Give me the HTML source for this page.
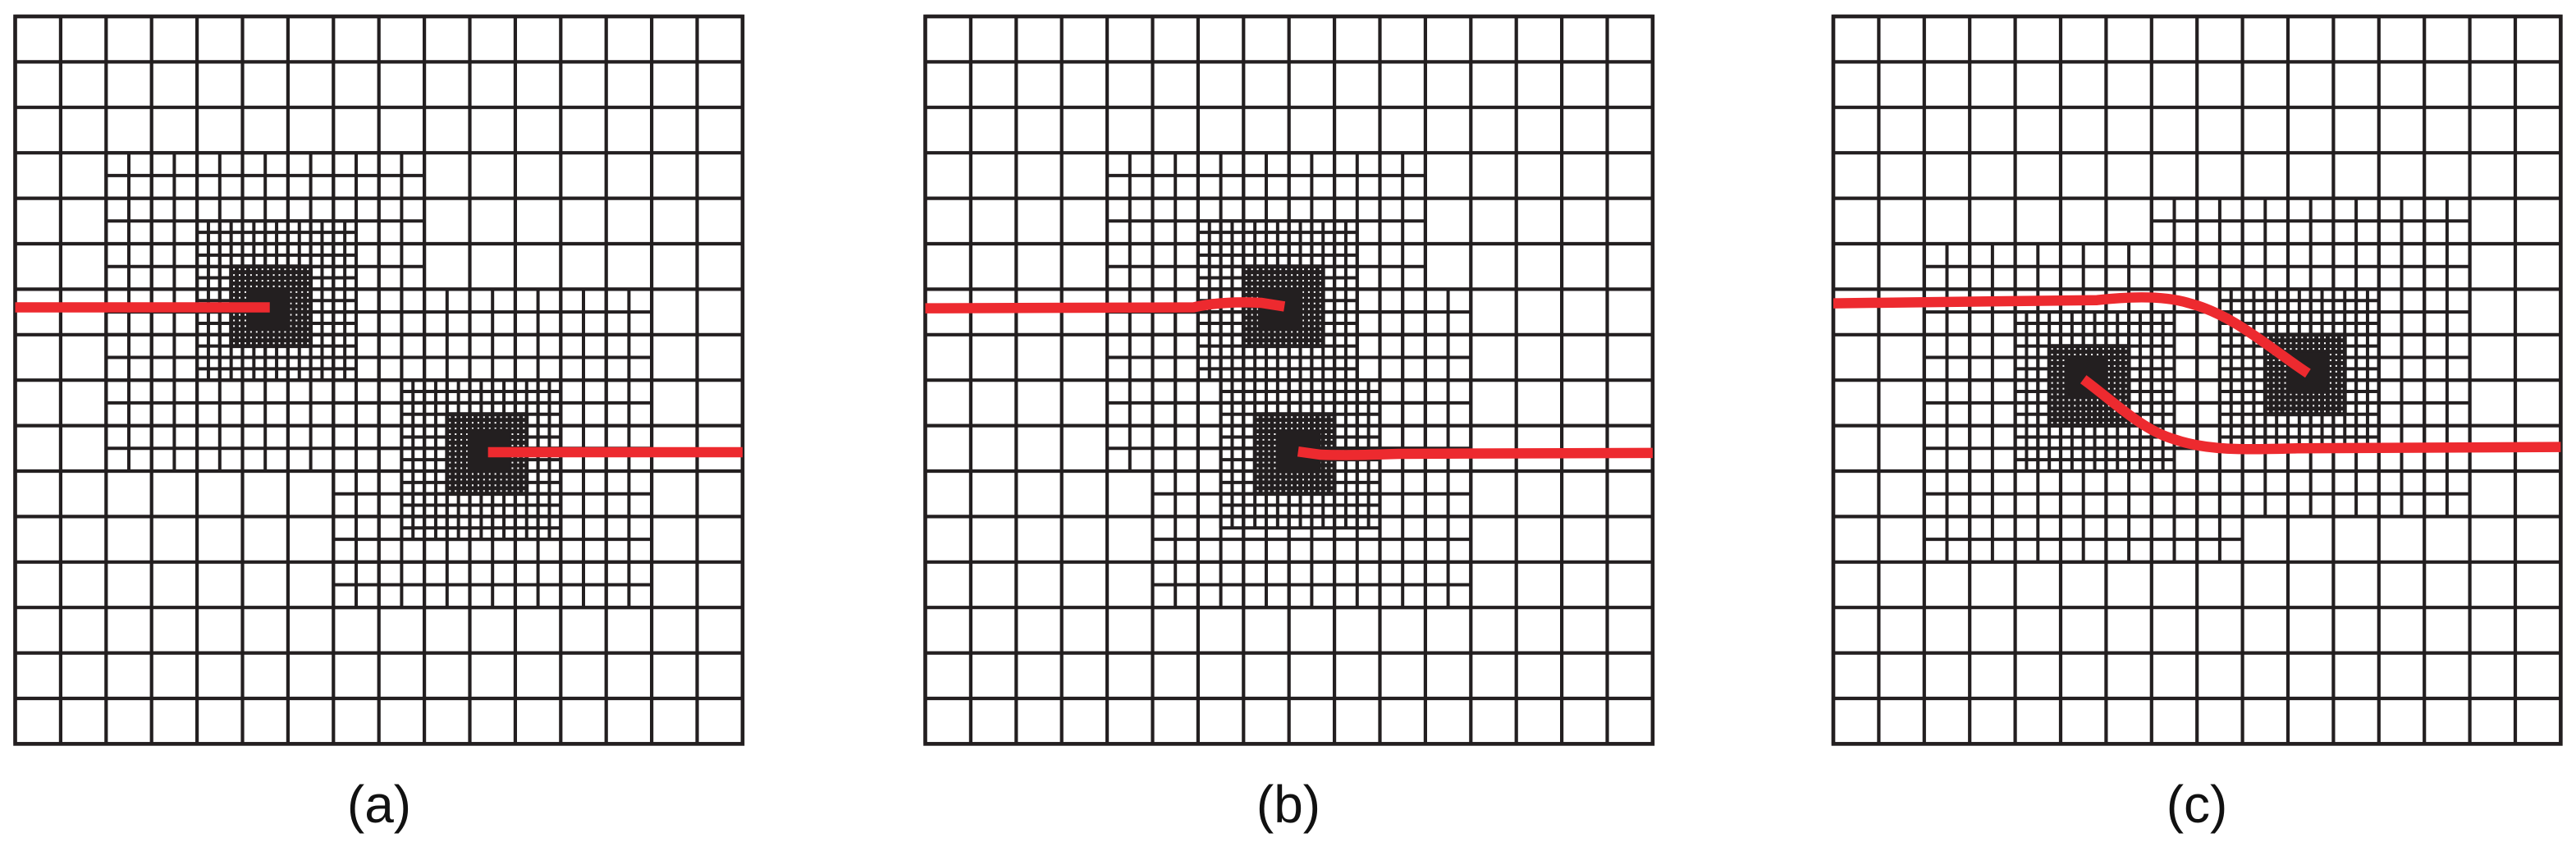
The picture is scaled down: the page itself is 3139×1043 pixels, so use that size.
<!DOCTYPE html>
<html><head><meta charset="utf-8">
<style>
html,body{margin:0;padding:0;background:#fff;}
body{width:3139px;height:1043px;position:relative;overflow:hidden;}
svg{position:absolute;left:0;top:0;}
.lbl{position:absolute;top:940px;width:300px;text-align:center;font-family:"Liberation Sans",Arial,sans-serif;font-size:64px;color:#111;line-height:80px;}
</style></head>
<body>
<svg id="s" width="3139" height="1043" viewBox="0 0 3139 1043" xmlns="http://www.w3.org/2000/svg"></svg>
<div class="lbl" style="left:312px">(a)</div>
<div class="lbl" style="left:1420px">(b)</div>
<div class="lbl" style="left:2527px">(c)</div>
<script>
var C=55.4, TOP=20, INK="#231f20", RED="#ed2a2f";
var panels=[
 {ox:18.5,
  H:[[2,3,9,10],[7,6,14,13]],
  Q:[[4,4.5,7.5,8],[8.5,8,12,11.5]],
  E:[[4.75,5.5,6.5,7.25],[9.5,8.75,11.25,10.5]],
  K:[[5.1,6,6.05,6.92],[9.95,9.07,10.87,10.03]],
  R:["M0,6.4 L5.6,6.4","M10.4,9.585 L16,9.585"]},
 {ox:1127.5,
  H:[[4,3,11,10],[5,6,12,13]],
  Q:[[6,4.5,9.5,8],[6.5,8,10,11.25]],
  E:[[7,5.5,8.75,7.25],[7.25,8.75,9,10.5]],
  K:[[7.32,6,8.3,6.92],[7.75,9.1,8.7,10.05]],
  R:["M0,6.42 L5.9,6.4 C6.3,6.3 6.9,6.27 7.4,6.3 L7.9,6.38","M8.2,9.57 L8.7,9.64 C9.2,9.66 9.8,9.64 10.4,9.62 L16,9.6"]},
 {ox:2234,
  H:[[2,5,9,12],[7,4,14,11]],
  Q:[[4,6.5,7.5,10],[8.5,6,12,9.5]],
  E:[[4.75,7.25,6.5,9],[9.5,7,11.25,8.75]],
  K:[[5.08,7.5,6,8.4],[10,7.4,10.87,8.3]],
  R:["M0,6.31 L5.8,6.24 C6.6,6.15 7.3,6.15 7.8,6.3 C8.8,6.55 9.6,7.3 10.44,7.85",
     "M5.5,7.98 C6.2,8.5 6.8,9.1 7.5,9.3 C8.2,9.55 9,9.53 10.2,9.5 L16,9.47"]}
];
var out=[];
function line(x1,y1,x2,y2,w){out.push('<line x1="'+x1.toFixed(2)+'" y1="'+y1.toFixed(2)+'" x2="'+x2.toFixed(2)+'" y2="'+y2.toFixed(2)+'" stroke="'+INK+'" stroke-width="'+w+'"/>');}
function grid(p,r,s,w){
 var X=function(c){return p.ox+c*C;}, Y=function(c){return TOP+c*C;};
 var n=Math.round((r[2]-r[0])/s), m=Math.round((r[3]-r[1])/s);
 for(var i=0;i<=n;i++){var x=X(r[0]+i*s);line(x,Y(r[1]),x,Y(r[3]),w);}
 for(var j=0;j<=m;j++){var y=Y(r[1]+j*s);line(X(r[0]),y,X(r[2]),y,w);}
}
panels.forEach(function(p){
 grid(p,[0,0,16,16],1,4.2);
 p.H.forEach(function(r){grid(p,r,0.5,4.0);});
 p.Q.forEach(function(r){grid(p,r,0.25,4.0);});
 p.E.forEach(function(r){grid(p,r,0.125,4.9);});
 p.K.forEach(function(r){out.push('<rect x="'+(p.ox+r[0]*C)+'" y="'+(TOP+r[1]*C)+'" width="'+((r[2]-r[0])*C)+'" height="'+((r[3]-r[1])*C)+'" fill="'+INK+'"/>');});
 out.push('<rect x="'+p.ox+'" y="'+TOP+'" width="'+(16*C)+'" height="'+(16*C)+'" fill="none" stroke="'+INK+'" stroke-width="4.6"/>');
 p.R.forEach(function(d){
  out.push('<path transform="translate('+p.ox+','+TOP+') scale('+C+')" d="'+d+'" fill="none" stroke="'+RED+'" stroke-width="'+(12.5/C)+'" stroke-linecap="butt" stroke-linejoin="round"/>');
 });
});
document.getElementById('s').innerHTML=out.join('');
</script>
</body></html>
